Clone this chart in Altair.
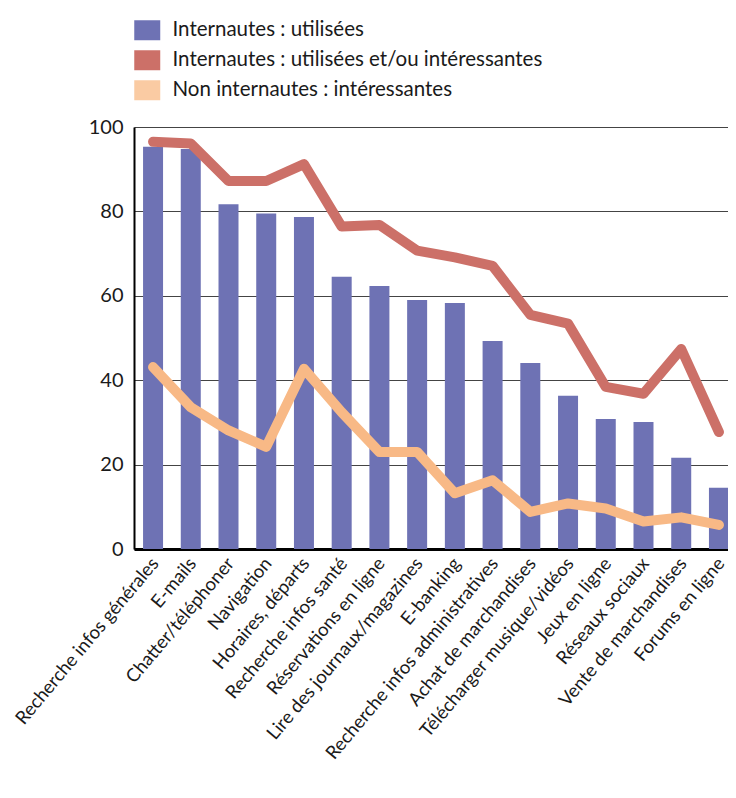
import altair as alt
import pandas as pd

categories = [
    "Recherche infos générales", "E-mails", "Chatter/téléphoner", "Navigation",
    "Horaires, départs", "Recherche infos santé", "Réservations en ligne",
    "Lire des journaux/magazines", "E-banking", "Recherche infos administratives",
    "Achat de marchandises", "Télécharger musique/vidéos", "Jeux en ligne",
    "Réseaux sociaux", "Vente de marchandises", "Forums en ligne",
]
used = [95.3, 94.8, 81.7, 79.5, 78.7, 64.5, 62.3, 59.0, 58.3, 49.3, 44.1, 36.3, 30.8, 30.1, 21.6, 14.5]
used_or_interest = [96.5, 96.1, 87.2, 87.2, 91.2, 76.4, 76.8, 70.7, 69.1, 67.1, 55.5, 53.4, 38.4, 36.8, 47.4, 27.7]
non_users_interest = [43.1, 33.6, 28.1, 24.2, 42.7, 32.4, 23.0, 23.0, 13.2, 16.3, 8.8, 10.8, 9.6, 6.5, 7.5, 5.7]

s1 = "Internautes : utilisées"
s2 = "Internautes : utilisées et/ou intéressantes"
s3 = "Non internautes : intéressantes"
series_names = [s1, s2, s3]
legend_colors = ["#6E72B4", "#CC7068", "#FACBA3"]
line_colors = ["#CC7068", "#F8B986"]

bars_df = pd.DataFrame({"cat": categories, "value": used, "series": s1})
lines_df = pd.concat([
    pd.DataFrame({"cat": categories, "value": used_or_interest, "series": s2}),
    pd.DataFrame({"cat": categories, "value": non_users_interest, "series": s3}),
])

FONT = "Lato"

xenc = alt.X(
    "cat:N", sort=categories, title=None,
    scale=alt.Scale(range=[0, 604], paddingInner=0.47, paddingOuter=0.24),
    axis=alt.Axis(labelAngle=-50, labelAlign="right", labelBaseline="top",
                  labelFontSize=18.5, labelFont=FONT, labelColor="#1a1a1a",
                  labelPadding=5, labelOffset=-5, ticks=False,
                  domainColor="#000000", domainWidth=3, grid=False,
                  labelOverlap=False, labelLimit=1000),
)
yenc = alt.Y(
    "value:Q", title=None,
    scale=alt.Scale(domain=[0, 100], nice=False),
    axis=alt.Axis(values=[0, 20, 40, 60, 80, 100], ticks=False,
                  labelFontSize=20, labelFont=FONT, labelColor="#1a1a1a",
                  labelPadding=11, domainColor="#000000", domainWidth=2,
                  grid=True, gridColor="#444444", gridWidth=1),
)

bars = alt.Chart(bars_df).mark_bar().encode(
    x=xenc,
    y=yenc,
    color=alt.Color(
        "series:N",
        scale=alt.Scale(domain=series_names, range=legend_colors),
        legend=alt.Legend(
            title=None, orient="none", legendX=3, legendY=-107,
            direction="vertical", symbolType="M-1.3,-1H1.3V1H-1.3Z",
            symbolSize=400, symbolStrokeWidth=0, labelFontSize=20.5,
            labelFont=FONT, labelColor="#1a1a1a", labelOffset=15,
            rowPadding=9, padding=0, labelLimit=600,
        ),
    ),
)

lines = alt.Chart(lines_df).mark_line(
    strokeWidth=10, strokeCap="round", strokeJoin="round"
).encode(
    x=xenc,
    y=yenc,
    stroke=alt.Stroke(
        "series:N",
        scale=alt.Scale(domain=[s2, s3], range=line_colors),
        legend=None,
    ),
    detail="series:N",
)

chart = alt.layer(bars, lines).properties(
    width=594, height=422,
    autosize=alt.AutoSizeParams(type="none"),
    padding={"left": 126, "top": 119, "right": 0, "bottom": 245},
).configure_view(stroke=None).configure(background="white")

chart.save("out.html", embed_options={"renderer": "svg", "actions": False})
